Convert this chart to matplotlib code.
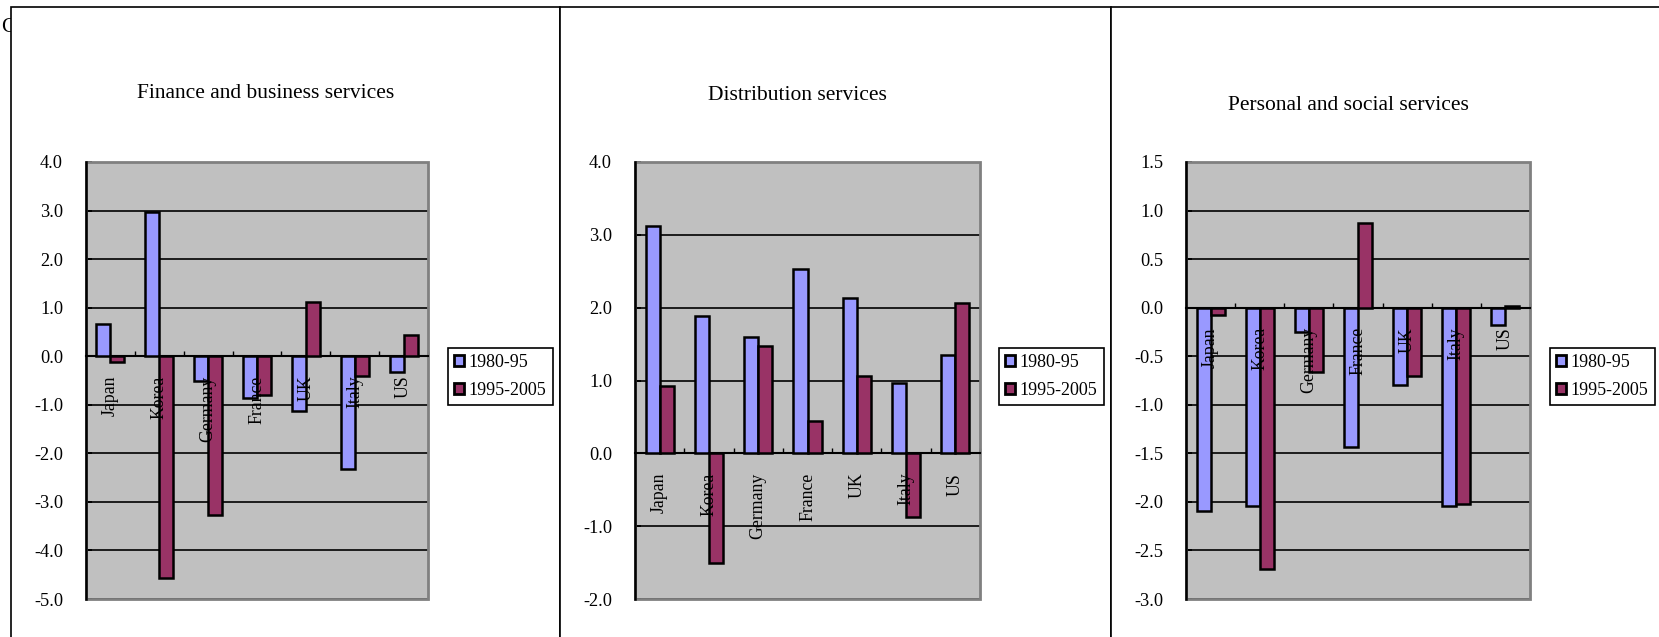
import numpy as np
import matplotlib
matplotlib.use('Agg')
import matplotlib.pyplot as plt
from matplotlib.patches import Rectangle

plt.rcParams['font.family'] = ['Liberation Serif', 'DejaVu Serif']
plt.rcParams['axes.unicode_minus'] = False

# data
countries = ['Japan', 'Korea', 'Germany', 'France', 'UK', 'Italy', 'US']
series_names = ['1980-95', '1995-2005']

finance_8095 = [0.67, 2.97, -0.52, -0.86, -1.12, -2.32, -0.33]
finance_9505 = [-0.12, -4.57, -3.26, -0.79, 1.12, -0.40, 0.43]
dist_8095 = [3.12, 1.88, 1.60, 2.53, 2.13, 0.96, 1.35]
dist_9505 = [0.92, -1.51, 1.47, 0.45, 1.06, -0.88, 2.06]
pers_8095 = [-2.09, -2.04, -0.25, -1.43, -0.80, -2.04, -0.18]
pers_9505 = [-0.08, -2.69, -0.66, 0.87, -0.70, -2.02, 0.02]

titles = ['Finance and business services', 'Distribution services',
          'Personal and social services']
ylims = [(-5.0, 4.0), (-2.0, 4.0), (-3.0, 1.5)]
ysteps = [1.0, 1.0, 0.5]

W, H = 1659, 637
fig = plt.figure(figsize=(W / 100, H / 100), dpi=100)

# pixel layout of the three panels
plot_px = [(86, 428), (635, 980), (1186, 1530)]
plot_top, plot_bot = 162, 599
title_px = [(266, 93), (797, 96), (1348, 105)]
legend_left = [448, 999, 1550]
frames = [(10.5, 560), (560, 1111), (1111, 1700)]

col_a = '#9999FF'
col_b = '#993366'
gray_bg = '#C0C0C0'


def px_rect(x0, x1, y0, y1):
    return [x0 / W, 1 - y1 / H, (x1 - x0) / W, (y1 - y0) / H]


# stray clipped character behind the first panel
fig.text(1 / W, 1 - 27 / H, 'C', fontsize=15, va='center', ha='left', zorder=1)

for fx0, fx1 in frames:
    fig.patches.append(Rectangle((fx0 / W, -0.1), (fx1 - fx0) / W, 1.1 - 7 / H,
                                 transform=fig.transFigure, facecolor='white',
                                 edgecolor='black', lw=1.2, zorder=2))

data = [(finance_8095, finance_9505), (dist_8095, dist_9505), (pers_8095, pers_9505)]
w = 1 / 3.5
x = np.arange(len(countries))

for k in range(3):
    ax = fig.add_axes(px_rect(plot_px[k][0], plot_px[k][1], plot_top, plot_bot))
    ax.set_zorder(5)
    ax.set_facecolor(gray_bg)
    a, b = data[k]
    ax.bar(x - w / 2, a, width=w, color=col_a, edgecolor='black', lw=1.8,
           label=series_names[0], zorder=3)
    ax.bar(x + w / 2, b, width=w, color=col_b, edgecolor='black', lw=1.8,
           label=series_names[1], zorder=3)

    lo, hi = ylims[k]
    ax.set_ylim(lo, hi)
    ax.set_xlim(-0.5, len(countries) - 0.5)
    ax.set_yticks(np.arange(lo, hi + ysteps[k] / 2, ysteps[k]))
    ax.yaxis.set_major_formatter(matplotlib.ticker.FormatStrFormatter('%.1f'))
    ax.tick_params(axis='y', direction='in', length=4.5, width=1.4, pad=16.5,
                   labelsize=13.2, color='black')
    ax.yaxis.grid(True, color='black', lw=1.2, zorder=1)
    ax.set_axisbelow(True)

    ax.set_xticks(np.arange(0.5, len(countries), 1.0))
    ax.set_xticklabels([])
    ax.tick_params(axis='x', direction='in', length=3.5, width=1.0, color='black')

    ax.spines['bottom'].set_position(('data', 0))
    ax.spines['bottom'].set_linewidth(1.5)
    ax.spines['bottom'].set_zorder(2.5)
    ax.spines['left'].set_linewidth(1.8)
    ax.spines['left'].set_zorder(4)
    ax.spines['top'].set_visible(False)
    ax.spines['right'].set_visible(False)
    ax.add_patch(Rectangle((0, 0), 1, 1, transform=ax.transAxes, fill=False,
                           edgecolor='#808080', lw=2.0, zorder=2, clip_on=False))

    for i, name in enumerate(countries):
        ax.annotate(name, (i, 0), xytext=(0, -14), textcoords='offset points',
                    rotation=90, ha='center', va='top', fontsize=12.8, zorder=6)

    tx, ty = title_px[k]
    fig.text(tx / W, 1 - ty / H, titles[k], fontsize=15.5, ha='center',
             va='center', zorder=6)

    leg = ax.legend(loc='upper left',
                    bbox_to_anchor=(legend_left[k] / W, 1 - 348 / H),
                    bbox_transform=fig.transFigure, fontsize=13, frameon=True,
                    fancybox=False, edgecolor='black', framealpha=1,
                    handlelength=0.55, handleheight=0.55, handletextpad=0.25,
                    borderpad=0.35, labelspacing=0.6, borderaxespad=0)
    leg.get_frame().set_linewidth(1.2)
    for h in leg.legend_handles:
        h.set_linewidth(2.0)

fig.savefig('out.png', dpi=100)
